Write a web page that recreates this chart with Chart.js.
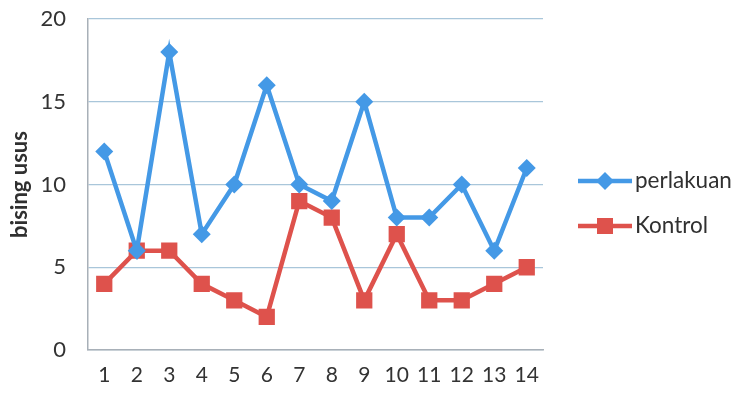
<!DOCTYPE html>
<html>
<head>
<meta charset="utf-8">
<script src="https://cdn.jsdelivr.net/npm/chart.js@4/dist/chart.umd.min.js"></script>
<style>
html,body{margin:0;padding:0;background:#fff;}
#wrap{position:relative;width:738px;height:395px;}
</style>
</head>
<body>
<div id="wrap"><canvas id="c" width="738" height="395"></canvas></div>
<script>
const categories = ['1','2','3','4','5','6','7','8','9','10','11','12','13','14'];
const perlakuan = [12,6,18,7,10,16,10,9,15,8,8,10,6,11];
const kontrol = [4,6,6,4,3,2,9,8,3,7,3,3,4,5];
const yTicks = [0,5,10,15,20];
const yTitle = 'bising usus';

const BLUE = '#4499e6';
const RED = '#de524c';
const FONT = 'Lato, "Open Sans", sans-serif';

const legendPlugin = {
  id: 'sideLegend',
  afterDraw(chart) {
    const ctx = chart.ctx;
    const items = chart.data.datasets;
    const x0 = 578, x1 = 632;
    const ys = [181, 226];
    ctx.save();
    items.forEach((ds, i) => {
      const y = ys[i];
      ctx.strokeStyle = ds.borderColor;
      ctx.lineWidth = 4.5;
      ctx.beginPath(); ctx.moveTo(x0, y); ctx.lineTo(x1, y); ctx.stroke();
      ctx.fillStyle = ds.backgroundColor;
      const xm = (x0 + x1) / 2;
      ctx.beginPath();
      if (ds.pointStyle === 'rectRot') {
        const r = 9;
        ctx.moveTo(xm - r, y); ctx.lineTo(xm, y - r); ctx.lineTo(xm + r, y); ctx.lineTo(xm, y + r);
        ctx.closePath();
      } else {
        ctx.rect(xm - 8, y - 8, 16, 16);
      }
      ctx.fill();
      ctx.fillStyle = '#303030';
      ctx.font = '22.5px ' + FONT;
      ctx.textAlign = 'left';
      ctx.textBaseline = 'middle';
      ctx.fillText(ds.label, x1 + 3, y);
    });
    ctx.restore();
  }
};

new Chart(document.getElementById('c'), {
  type: 'line',
  data: {
    labels: categories,
    datasets: [
      {label: 'perlakuan', data: perlakuan, borderColor: BLUE, backgroundColor: BLUE,
       borderWidth: 4.5, pointStyle: 'rectRot', pointRadius: 9, pointBorderWidth: 0, tension: 0},
      {label: 'Kontrol', data: kontrol, borderColor: RED, backgroundColor: RED,
       borderWidth: 4.5, pointStyle: 'rect', pointRadius: 11.5, pointBorderWidth: 0, tension: 0}
    ]
  },
  options: {
    responsive: false,
    animation: false,
    layout: {padding: {left: 0, right: 195, top: 19, bottom: 0}},
    plugins: {legend: {display: false}, tooltip: {enabled: false}},
    scales: {
      x: {
        type: 'category',
        offset: true,
        grid: {display: false, drawTicks: false},
        border: {display: true, color: '#a8b0b8', width: 1.5},
        ticks: {color: '#333333', font: {family: FONT, size: 21}, padding: 13, maxRotation: 0, autoSkip: false},
        afterFit(s) { s.height = 45; s.paddingLeft = 0; s.paddingRight = 0; }
      },
      y: {
        min: 0, max: 20,
        afterBuildTicks(s) { s.ticks = yTicks.map(v => ({value: v})); },
        grid: {color: '#a9c6da', lineWidth: 1.2, drawTicks: false},
        border: {display: true, color: '#a8b0b8', width: 1.5},
        ticks: {color: '#333333', font: {family: FONT, size: 22}, padding: 22},
        title: {display: true, text: yTitle, color: '#303030', font: {family: FONT, size: 22, weight: 'bold'}, padding: {top: 7, bottom: 0}},
        afterFit(s) { s.width = 88; s.paddingTop = 0; s.paddingBottom = 0; }
      }
    }
  },
  plugins: [legendPlugin]
});
</script>
</body>
</html>
